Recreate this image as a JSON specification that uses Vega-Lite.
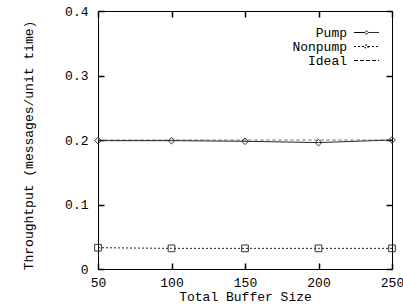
{
  "$schema": "https://vega.github.io/schema/vega-lite/v6.json",
  "width": 294,
  "height": 258,
  "autosize": {"type": "none"},
  "padding": {"left": 98, "top": 11, "right": 11, "bottom": 38},
  "background": "white",
  "config": {
    "view": {"stroke": "black", "strokeWidth": 1},
    "font": "Liberation Mono",
    "axis": {"grid": false, "domain": false, "ticks": true, "labelFont": "Liberation Mono", "titleFont": "Liberation Mono", "labelFontSize": 13, "titleFontSize": 13, "labelColor": "black", "titleColor": "black", "titleFontWeight": "normal"}
  },
  "data": {"values": [
    {"size": 50, "series": "Pump", "value": 0.199},
    {"size": 100, "series": "Pump", "value": 0.199},
    {"size": 150, "series": "Pump", "value": 0.198},
    {"size": 200, "series": "Pump", "value": 0.196},
    {"size": 250, "series": "Pump", "value": 0.2},
    {"size": 50, "series": "Nonpump", "value": 0.033},
    {"size": 100, "series": "Nonpump", "value": 0.032},
    {"size": 150, "series": "Nonpump", "value": 0.032},
    {"size": 200, "series": "Nonpump", "value": 0.032},
    {"size": 250, "series": "Nonpump", "value": 0.032},
    {"size": 50, "series": "Ideal", "value": 0.2},
    {"size": 100, "series": "Ideal", "value": 0.2},
    {"size": 150, "series": "Ideal", "value": 0.2},
    {"size": 200, "series": "Ideal", "value": 0.2},
    {"size": 250, "series": "Ideal", "value": 0.2}
  ]},
  "resolve": {"axis": {"x": "independent", "y": "independent"}},
  "layer": [
    {
      "transform": [{"filter": "datum.series === 'Ideal'"}],
      "mark": {"type": "line", "strokeWidth": 1, "color": "#888888"},
      "encoding": {
        "x": {"field": "size", "type": "quantitative", "scale": {"domain": [50, 250], "nice": false},
              "axis": {"orient": "bottom", "values": [50, 100, 150, 200, 250], "ticks": true, "tickColor": "#000000", "tickWidth": 1.5, "tickSize": 6, "offset": -6, "title": "Total Buffer Size", "labelPadding": 7, "titlePadding": 1, "labelFlush": false}},
        "y": {"field": "value", "type": "quantitative", "scale": {"domain": [0, 0.4], "nice": false},
              "axis": {"orient": "left", "values": [0, 0.1, 0.2, 0.3, 0.4], "ticks": true, "tickColor": "#000000", "tickWidth": 1.5, "tickSize": 6, "offset": -6, "format": "~g", "title": "Throughtput (messages/unit time)", "labelPadding": 10, "titleAngle": 270, "titleX": -76, "titleY": 134, "titleAlign": "center", "titleBaseline": "middle"}},
        "strokeDash": {"field": "series", "type": "nominal",
          "scale": {"domain": ["Pump", "Nonpump", "Ideal"], "range": [[1, 0], [2, 2], [4, 2]]},
          "legend": {
            "title": null, "orient": "none", "legendX": 262, "legendY": 15, "padding": 0,
            "symbolSize": 100, "symbolStrokeWidth": 1, "symbolStrokeColor": "black", "symbolFillColor": "transparent", "rowPadding": -1,
            "labelAlign": "right", "labelOffset": -26, "labelFontSize": 13, "labelFont": "Liberation Mono", "labelColor": "black",
            "encode": {"symbols": {"update": {
              "shape": {"signal": "datum.value === 'Pump' ? 'M-2.5,0H-0.35M0.35,0H2.5M0,-0.35L0.35,0L0,0.35L-0.35,0Z' : datum.value === 'Nonpump' ? 'M-2.5,0H-0.3M0.3,0H2.5M-0.3,-0.3H0.3V0.3H-0.3Z' : 'M-2.5,0H2.5'"}
            }}}
          }}
      }
    },
    {
      "transform": [{"filter": "datum.series !== 'Ideal'"}],
      "mark": {"type": "line", "strokeWidth": 1, "color": "#222222"},
      "encoding": {
        "x": {"field": "size", "type": "quantitative", "scale": {"domain": [50, 250], "nice": false}, "axis": null},
        "y": {"field": "value", "type": "quantitative", "scale": {"domain": [0, 0.4], "nice": false}, "axis": null},
        "strokeDash": {"field": "series", "type": "nominal", "scale": {"domain": ["Pump", "Nonpump", "Ideal"], "range": [[1, 0], [2, 2], [4, 2]]}}
      }
    },
    {
      "transform": [{"filter": "datum.series !== 'Ideal'"}],
      "mark": {"type": "point", "filled": false, "size": 45, "strokeWidth": 1, "color": "#333333", "opacity": 1},
      "encoding": {
        "x": {"field": "size", "type": "quantitative", "scale": {"domain": [50, 250], "nice": false},
              "axis": {"orient": "top", "values": [50, 100, 150, 200, 250], "ticks": true, "tickColor": "#000000", "tickWidth": 1.5, "tickSize": 6, "offset": -6, "labels": false, "title": null}},
        "y": {"field": "value", "type": "quantitative", "scale": {"domain": [0, 0.4], "nice": false},
              "axis": {"orient": "right", "values": [0, 0.1, 0.2, 0.3, 0.4], "ticks": true, "tickColor": "#000000", "tickWidth": 1.5, "tickSize": 6, "offset": -6, "labels": false, "title": null}},
        "shape": {"field": "series", "type": "nominal", "scale": {"domain": ["Pump", "Nonpump"], "range": ["diamond", "square"]}, "legend": null}
      }
    }
  ]
}
